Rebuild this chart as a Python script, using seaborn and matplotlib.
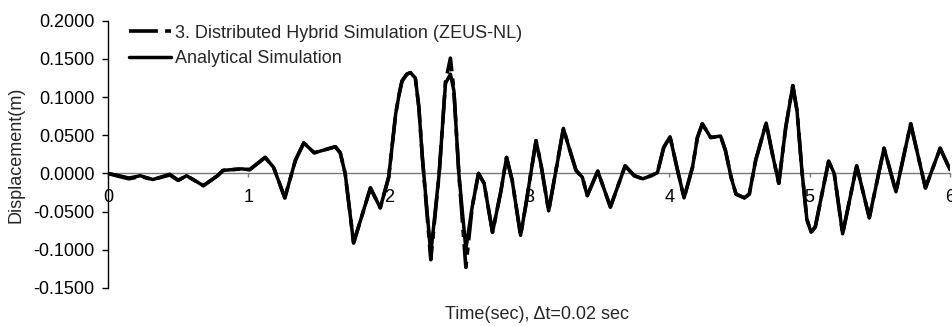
import matplotlib
matplotlib.use("Agg")
import matplotlib.pyplot as plt
import seaborn as sns
import pandas as pd

time_s = [0.00, 0.08, 0.15, 0.23, 0.32, 0.44, 0.50, 0.56, 0.68, 0.78, 0.82, 0.95,
          1.01, 1.12, 1.18, 1.26, 1.335, 1.395, 1.47, 1.62, 1.655, 1.69, 1.75, 1.87,
          1.94, 2.00, 2.05, 2.075, 2.095, 2.13, 2.155, 2.19, 2.215, 2.24, 2.30, 2.36, 2.405, 2.44, 2.465,
          2.50, 2.55, 2.595, 2.64, 2.68, 2.74, 2.80, 2.84, 2.88, 2.94, 2.975, 3.05,
          3.085, 3.14, 3.20, 3.245, 3.285, 3.335, 3.38, 3.415, 3.49, 3.58, 3.685, 3.75,
          3.81, 3.87, 3.915, 3.96, 4.005, 4.06, 4.105, 4.165, 4.20, 4.235, 4.295, 4.365,
          4.40, 4.44, 4.475, 4.535, 4.57, 4.615, 4.69, 4.735, 4.78, 4.83, 4.88, 4.91,
          4.945, 4.98, 5.01, 5.04, 5.135, 5.175, 5.235, 5.335, 5.425, 5.53, 5.615, 5.72,
          5.825, 5.93, 6.00]

analytical = [0.000, -0.003, -0.006, -0.003, -0.008, -0.001, -0.009, -0.003, -0.016, -0.003, 0.004, 0.006,
              0.005, 0.021, 0.008, -0.032, 0.017, 0.040, 0.027, 0.035, 0.027, 0.000, -0.091, -0.019,
              -0.045, -0.005, 0.078, 0.104, 0.121, 0.130, 0.132, 0.125, 0.087, 0.021, -0.105, 0.000, 0.118, 0.130, 0.108,
              0.000, -0.099, -0.044, 0.000, -0.013, -0.077, -0.023, 0.021, -0.009, -0.081, -0.044, 0.043,
              0.012, -0.049, 0.012, 0.059, 0.034, 0.004, -0.005, -0.029, 0.003, -0.044, 0.010, -0.003,
              -0.007, -0.003, 0.001, 0.034, 0.048, 0.003, -0.032, 0.008, 0.047, 0.065, 0.047, 0.049,
              0.030, -0.005, -0.027, -0.032, -0.027, 0.017, 0.066, 0.025, -0.013, 0.061, 0.115, 0.082,
              0.003, -0.060, -0.077, -0.070, 0.016, 0.000, -0.079, 0.010, -0.058, 0.033, -0.024, 0.065,
              -0.019, 0.033, 0.005]

hybrid = [0.000, -0.004, -0.007, -0.004, -0.008, -0.002, -0.009, -0.003, -0.016, -0.003, 0.004, 0.006,
          0.005, 0.021, 0.008, -0.032, 0.017, 0.040, 0.027, 0.035, 0.027, 0.000, -0.091, -0.019,
          -0.045, -0.005, 0.078, 0.104, 0.121, 0.130, 0.132, 0.125, 0.087, 0.021, -0.113, 0.000, 0.120, 0.151, 0.108,
          0.000, -0.123, -0.044, 0.000, -0.013, -0.077, -0.023, 0.021, -0.009, -0.081, -0.044, 0.043,
          0.012, -0.049, 0.012, 0.059, 0.034, 0.004, -0.005, -0.029, 0.003, -0.044, 0.010, -0.003,
          -0.007, -0.003, 0.001, 0.034, 0.048, 0.003, -0.032, 0.008, 0.047, 0.065, 0.047, 0.049,
          0.030, -0.005, -0.027, -0.032, -0.027, 0.017, 0.066, 0.025, -0.013, 0.061, 0.115, 0.082,
          0.003, -0.060, -0.077, -0.070, 0.016, 0.000, -0.079, 0.010, -0.058, 0.033, -0.024, 0.065,
          -0.019, 0.033, 0.005]

y_ticks = [-0.15, -0.10, -0.05, 0.0, 0.05, 0.10, 0.15, 0.20]
y_tick_labels = ["-0.1500", "-0.1000", "-0.0500", "0.0000", "0.0500", "0.1000", "0.1500", "0.2000"]
x_ticks = [0, 1, 2, 3, 4, 5, 6]
x_tick_labels = ["0", "1", "2", "3", "4", "5", "6"]

label_hybrid = "3. Distributed Hybrid Simulation (ZEUS-NL)"
label_analytical = "Analytical Simulation"

sns.set_style("white")
plt.rcParams["font.family"] = ["Liberation Sans", "DejaVu Sans"]

df = pd.DataFrame({"t": time_s, "analytical": analytical, "hybrid": hybrid})

fig = plt.figure(figsize=(9.52, 3.26), dpi=100)
ax = fig.add_axes([108 / 952, 1 - 288 / 326, (950 - 108) / 952, (288 - 20.7) / 326])

sns.lineplot(data=df, x="t", y="hybrid", ax=ax, color="black", lw=2.6,
             label=label_hybrid, sort=False)
ax.lines[-1].set_dashes([8, 2, 2, 2])
sns.lineplot(data=df, x="t", y="analytical", ax=ax, color="black", lw=2.5,
             label=label_analytical, sort=False)

ax.set_xlim(0, 6)
ax.set_ylim(-0.15, 0.20)

for s in ["top", "right"]:
    ax.spines[s].set_visible(False)
ax.spines["left"].set_color("black")
ax.spines["left"].set_linewidth(1.0)
ax.spines["bottom"].set_position(("data", 0))
ax.spines["bottom"].set_color("#7a7a7a")
ax.spines["bottom"].set_linewidth(1.0)
ax.spines["bottom"].set_zorder(1)

ax.set_yticks(y_ticks)
ax.set_yticklabels(y_tick_labels)
ax.set_xticks(x_ticks)
ax.set_xticklabels(x_tick_labels)
ax.tick_params(axis="y", direction="out", length=4, width=1, pad=5.5, labelsize=13, colors="black", left=True)
ax.tick_params(axis="x", direction="out", length=3, width=1, pad=8, labelsize=13, color="#7a7a7a",
               labelcolor="black", bottom=True)

ax.set_xlabel("Time(sec), \u0394t=0.02 sec", fontsize=13, va="center")
ax.xaxis.set_label_coords(0.51, -0.10)
ax.set_ylabel("Displacement(m)", fontsize=13, va="center")
ax.yaxis.set_label_coords(-0.1087, 0.5)

ax.legend(loc="upper left", bbox_to_anchor=(0.025, 0.985), frameon=False, fontsize=13,
          handlelength=2.3, handletextpad=0.25, labelspacing=0.45, borderpad=0, borderaxespad=0)

fig.savefig("out.png", dpi=100)
